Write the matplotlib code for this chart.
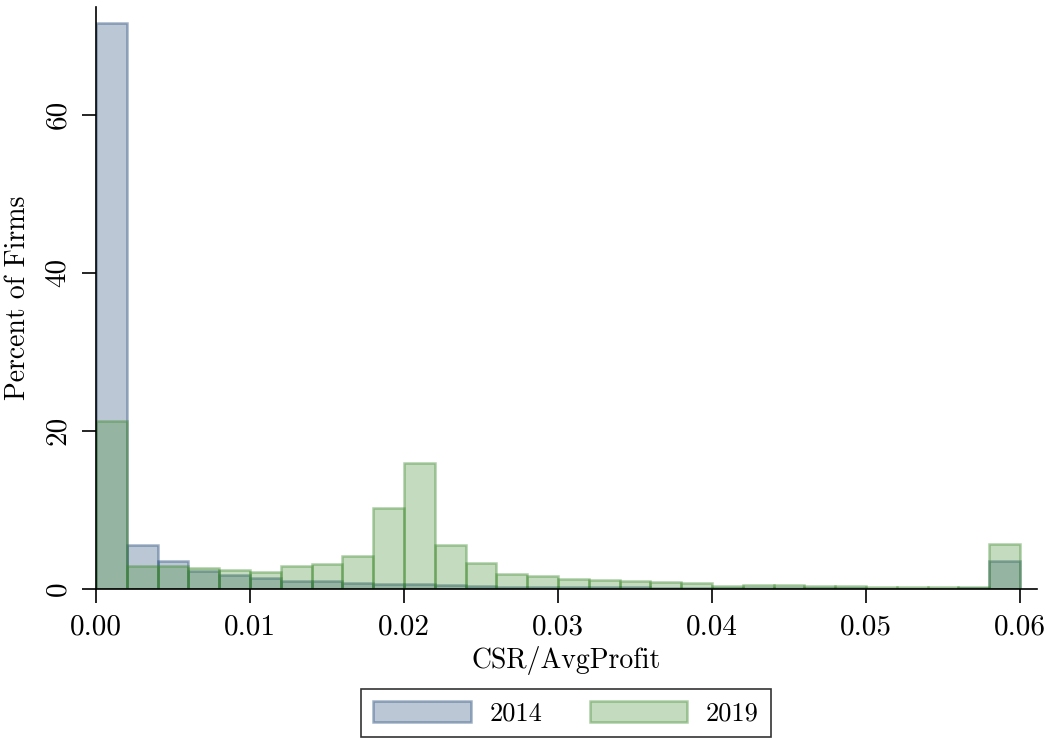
import matplotlib
matplotlib.use("Agg")
import matplotlib.pyplot as plt
import numpy as np

# histogram bins: 30 bins of width 0.002 from 0 to 0.06
bin_edges = np.linspace(0.0, 0.06, 31)

pct_2014 = [71.6, 5.6, 3.5, 2.3, 1.8, 1.45, 1.05, 1.05, 0.75, 0.6,
            0.6, 0.5, 0.4, 0.3, 0.3, 0.25, 0.2, 0.2, 0.15, 0.15,
            0.1, 0.1, 0.1, 0.1, 0.1, 0.05, 0.05, 0.05, 0.1, 3.6]
pct_2019 = [21.2, 2.95, 2.9, 2.6, 2.4, 2.15, 2.9, 3.2, 4.2, 10.2,
            15.9, 5.5, 3.3, 1.9, 1.7, 1.3, 1.15, 1.05, 0.85, 0.75,
            0.35, 0.55, 0.45, 0.4, 0.35, 0.3, 0.2, 0.25, 0.3, 5.7]

x_ticks = [0.00, 0.01, 0.02, 0.03, 0.04, 0.05, 0.06]
y_ticks = [0, 20, 40, 60]
series_names = ["2014", "2019"]

plt.rcParams["font.family"] = ["cmr10", "DejaVu Serif"]
plt.rcParams["axes.formatter.use_mathtext"] = True

navy = (32 / 255, 72 / 255, 118 / 255)
green = (62 / 255, 138 / 255, 45 / 255)

fig = plt.figure(figsize=(10.52, 7.39), dpi=100)
ax = fig.add_axes([0.0913, 0.203, 0.8944, 0.7875])

lefts = bin_edges[:-1]
width = np.diff(bin_edges)

ax.bar(lefts, pct_2014, width=width, align="edge",
       facecolor=navy + (0.3,), edgecolor=navy + (0.42,), linewidth=1.8,
       label=series_names[0])
ax.bar(lefts, pct_2019, width=width, align="edge",
       facecolor=green + (0.3,), edgecolor=green + (0.42,), linewidth=1.8,
       label=series_names[1])

ax.set_xlim(0, 0.0611)
ax.set_ylim(0, 73.6)

ax.set_xticks(x_ticks)
ax.set_xticklabels([f"{t:.2f}" for t in x_ticks], fontsize=21)
ax.set_yticks(y_ticks)
ax.set_yticklabels([str(t) for t in y_ticks], fontsize=21, rotation=90, va="center")

ax.tick_params(axis="both", direction="out", length=10, width=1.2, color="black")
ax.tick_params(axis="x", pad=8)
ax.tick_params(axis="y", pad=8)

for side in ["top", "right"]:
    ax.spines[side].set_visible(False)
for side in ["left", "bottom"]:
    ax.spines[side].set_linewidth(1.2)

ax.set_xlabel("CSR/AvgProfit", fontsize=20, labelpad=4)
ax.set_ylabel("Percent of Firms", fontsize=20, labelpad=10)

leg = fig.legend(loc="center", bbox_to_anchor=(0.538, 0.035), ncol=2,
                 fontsize=19, frameon=True, fancybox=False, edgecolor="black",
                 handlelength=3.7, handleheight=0.85, columnspacing=1.8,
                 handletextpad=0.7, borderpad=0.45)
leg.get_frame().set_linewidth(1.2)

fig.savefig("out.png", dpi=100)
